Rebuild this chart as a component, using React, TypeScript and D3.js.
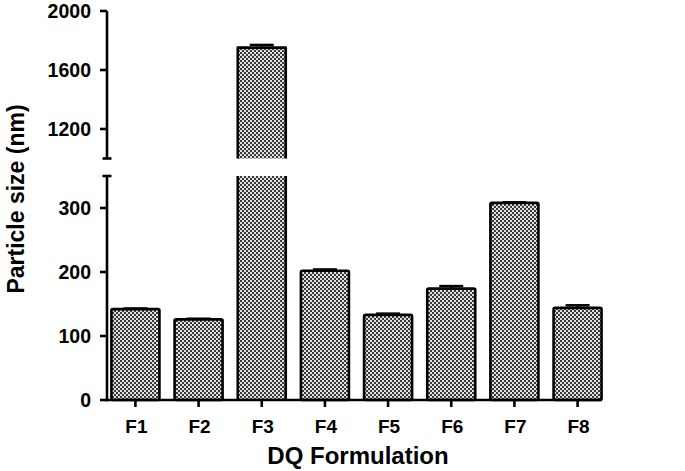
import React from "react"
import * as d3 from "d3"

const formulations = ["F1", "F2", "F3", "F4", "F5", "F6", "F7", "F8"]
const particleSize = [142, 126, 1752, 202, 133, 174, 308, 144]
const sizeError = [1, 1, 18, 2, 2, 4, 1, 4]
const lowTicks = [0, 100, 200, 300]
const highTicks = [1200, 1600, 2000]

const W = 685
const H = 471
const axisX = 107
const font = "'Liberation Sans', Arial, sans-serif"

export default function App() {
  const x = d3.scaleBand<string>()
    .domain(formulations)
    .range([axisX, 606])
    .paddingInner(0.24)
    .paddingOuter(0.07)

  // broken axis: two linear segments
  const yLow = d3.scaleLinear().domain([0, 350]).range([400, 176])
  const yHigh = d3.scaleLinear().domain([1000, 2000]).range([158.5, 11])
  const yVal = (v: number) => (v > 350 ? yHigh(v) : yLow(v))

  const bw = x.bandwidth()

  return (
    <svg width={W} height={H} style={{ position: "absolute", left: 0, top: 0, background: "#fff" }}>
      <defs>
        <pattern id="checker" width={4} height={4} patternUnits="userSpaceOnUse">
          <rect width={4} height={4} fill="#e0e0e0" />
          <rect x={0} y={0} width={2} height={2} fill="#3a3a3a" />
          <rect x={2} y={2} width={2} height={2} fill="#3a3a3a" />
        </pattern>
      </defs>

      {/* bars */}
      {formulations.map((f, i) => {
        const v = particleSize[i]
        const x0 = x(f)!
        const cx = x0 + bw / 2
        const top = yVal(v)
        const capY = yVal(v + sizeError[i])
        if (v > 350) {
          const brkTop = yHigh(1000)
          const brkBot = yLow(350)
          return (
            <g key={f}>
              <rect x={x0} y={top} width={bw} height={brkTop - top} fill="url(#checker)" />
              <rect x={x0} y={brkBot} width={bw} height={yLow(0) - brkBot} fill="url(#checker)" />
              <path
                d={`M${x0},${brkTop}V${top}H${x0 + bw}V${brkTop}M${x0},${brkBot}V${yLow(0)}M${x0 + bw},${brkBot}V${yLow(0)}`}
                fill="none" stroke="#000" strokeWidth={2.6} strokeLinejoin="round"
              />
              <line x1={cx} x2={cx} y1={top} y2={capY} stroke="#000" strokeWidth={2.5} />
              <line x1={cx - 12} x2={cx + 12} y1={capY} y2={capY} stroke="#000" strokeWidth={2.5} />
            </g>
          )
        }
        return (
          <g key={f}>
            <rect x={x0} y={top} width={bw} height={yLow(0) - top} fill="url(#checker)"
              stroke="#000" strokeWidth={2.6} strokeLinejoin="round" rx={1.5} />
            <line x1={cx} x2={cx} y1={top} y2={capY} stroke="#000" strokeWidth={2.5} />
            <line x1={cx - 12} x2={cx + 12} y1={capY} y2={capY} stroke="#000" strokeWidth={2.5} />
          </g>
        )
      })}

      {/* y axis, upper segment */}
      <line x1={axisX} x2={axisX} y1={yHigh(2000)} y2={yHigh(1000)} stroke="#000" strokeWidth={2.6} />
      <line x1={axisX - 4.5} x2={axisX + 4.5} y1={yHigh(1000)} y2={yHigh(1000)} stroke="#000" strokeWidth={2.6} />
      {highTicks.map(t => (
        <g key={t}>
          <line x1={axisX - 7} x2={axisX} y1={yHigh(t)} y2={yHigh(t)} stroke="#000" strokeWidth={2.6} />
          <text x={axisX - 16} y={yHigh(t)} dy="0.36em" textAnchor="end" fontFamily={font}
            fontWeight="bold" fontSize={19.5}>{t}</text>
        </g>
      ))}

      {/* y axis, lower segment */}
      <line x1={axisX} x2={axisX} y1={yLow(350)} y2={yLow(0) + 1.3} stroke="#000" strokeWidth={2.6} />
      <line x1={axisX - 4.5} x2={axisX + 4.5} y1={yLow(350)} y2={yLow(350)} stroke="#000" strokeWidth={2.6} />
      {lowTicks.map(t => (
        <g key={t}>
          <line x1={axisX - 7} x2={axisX} y1={yLow(t)} y2={yLow(t)} stroke="#000" strokeWidth={2.6} />
          <text x={axisX - 16} y={yLow(t)} dy="0.36em" textAnchor="end" fontFamily={font}
            fontWeight="bold" fontSize={19.5}>{t}</text>
        </g>
      ))}

      {/* x axis */}
      <line x1={axisX - 1.3} x2={602} y1={yLow(0)} y2={yLow(0)} stroke="#000" strokeWidth={2.6} />
      {formulations.map(f => {
        const cx = x(f)! + bw / 2
        return (
          <g key={f}>
            <line x1={cx} x2={cx} y1={yLow(0)} y2={yLow(0) + 7} stroke="#000" strokeWidth={2.6} />
            <text x={cx + 1} y={433} textAnchor="middle" fontFamily={font} fontWeight="bold"
              fontSize={19}>{f}</text>
          </g>
        )
      })}

      {/* axis titles */}
      <text x={358} y={464} textAnchor="middle" fontFamily={font} fontWeight="bold" fontSize={24}>
        DQ Formulation
      </text>
      <text transform="translate(24,199) rotate(-90)" textAnchor="middle" fontFamily={font}
        fontWeight="bold" fontSize={23}>Particle size (nm)</text>
    </svg>
  )
}
